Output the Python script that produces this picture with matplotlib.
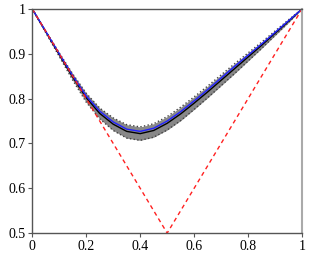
import matplotlib
matplotlib.use("Agg")
import matplotlib.pyplot as plt
import numpy as np

plt.rcParams['font.family'] = ['Liberation Serif', 'DejaVu Serif']

x = [0.0, 0.05, 0.1, 0.15, 0.2, 0.25, 0.3, 0.35, 0.4, 0.45, 0.5,
     0.55, 0.6, 0.65, 0.7, 0.75, 0.8, 0.85, 0.9, 0.95, 1.0]
blue_y = [1.0, 0.950, 0.900, 0.851, 0.806, 0.772, 0.748, 0.732, 0.727, 0.734, 0.750,
          0.771, 0.795, 0.820, 0.846, 0.872, 0.897, 0.922, 0.948, 0.974, 1.0]
black_y = [1.0, 0.949, 0.898, 0.848, 0.802, 0.767, 0.743, 0.727, 0.722, 0.729, 0.745,
           0.766, 0.790, 0.815, 0.841, 0.867, 0.893, 0.919, 0.946, 0.973, 1.0]
band_hi = [1.0, 0.951, 0.902, 0.855, 0.812, 0.779, 0.757, 0.742, 0.737, 0.744, 0.760,
           0.781, 0.804, 0.828, 0.853, 0.878, 0.902, 0.926, 0.951, 0.976, 1.0]
band_lo = [1.0, 0.947, 0.894, 0.841, 0.792, 0.755, 0.729, 0.712, 0.707, 0.714, 0.730,
           0.751, 0.776, 0.802, 0.829, 0.856, 0.884, 0.912, 0.941, 0.970, 1.0]

v_x = [0.0, 0.5, 1.0]
v_y = [1.0, 0.5, 1.0]

xticks = [0, 0.2, 0.4, 0.6, 0.8, 1]
xlabels = ['0', '0.2', '0.4', '0.6', '0.8', '1']
yticks = [0.5, 0.6, 0.7, 0.8, 0.9, 1]
ylabels = ['0.5', '0.6', '0.7', '0.8', '0.9', '1']

fig = plt.figure(figsize=(3.11, 2.59), dpi=100)
ax = fig.add_axes([0.104, 0.100, 0.867, 0.865])

ax.fill_between(x, band_lo, band_hi, color='#888888', lw=0)
ax.plot(x, band_hi, ':', color='#444444', lw=1)
ax.plot(x, band_lo, ':', color='#444444', lw=1)
ax.plot(x, black_y, color='black', lw=1)
ax.plot(x, blue_y, color='#2222ff', lw=1)
ax.plot(v_x, v_y, '--', color='#ff2020', lw=1, dashes=(3, 2.5))

ax.set_xlim(0, 1)
ax.set_ylim(0.5, 1)
ax.set_xticks(xticks)
ax.set_xticklabels(xlabels)
ax.set_yticks(yticks)
ax.set_yticklabels(ylabels)
ax.tick_params(direction='out', length=3, width=0.8, colors='#555555',
               labelcolor='black', labelsize=10, pad=2)

for s in ['left', 'bottom', 'top']:
    ax.spines[s].set_color('#555555')
    ax.spines[s].set_linewidth(1)
ax.spines['right'].set_color('#aaaaaa')
ax.spines['right'].set_linewidth(1.5)

fig.savefig('out.png', dpi=100)
